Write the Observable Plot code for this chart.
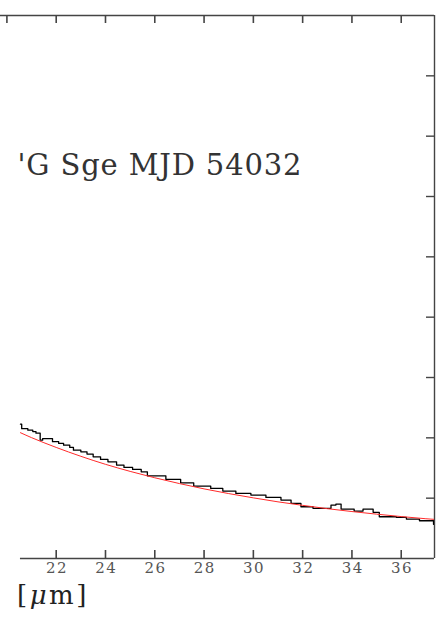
<!DOCTYPE html>
<html>
<head>
<meta charset="utf-8">
<script src="https://cdn.jsdelivr.net/npm/d3@7"></script>
<script src="https://cdn.jsdelivr.net/npm/@observablehq/plot@0.6"></script>
<style>
  body { margin: 0; background: #fff; }
  #chart { position: relative; width: 445px; height: 627px; overflow: hidden; }
  #unit { position: absolute; left: 17px; top: 582px; font: 26px "DejaVu Serif", serif; color: #222; line-height: 1; letter-spacing: 2.5px; }
</style>
</head>
<body>
<div id="chart"></div>
<script>
// Observed spectrum (binned, drawn as steps)
const wavelength = [20.55, 20.60, 20.85, 21.05, 21.18, 21.35, 21.45, 21.85, 22.10, 22.30,
  22.55, 22.70, 23.00, 23.25, 23.50, 23.80, 24.10, 24.45, 24.75, 25.10,
  25.45, 25.70, 26.45, 27.05, 27.58, 28.27, 28.76, 29.29, 29.90, 30.51,
  31.12, 31.53, 31.93, 32.42, 33.15, 33.35, 33.56, 34.09, 34.45, 34.86,
  35.11, 35.80, 36.21, 36.74, 37.31, 37.40];
const flux = [2.227, 2.152, 2.127, 2.103, 2.078, 1.962, 1.987, 1.937, 1.907, 1.879,
  1.841, 1.796, 1.768, 1.730, 1.685, 1.642, 1.603, 1.548, 1.510, 1.477,
  1.437, 1.371, 1.311, 1.255, 1.200, 1.162, 1.118, 1.079, 1.051, 1.013,
  0.969, 0.914, 0.858, 0.831, 0.886, 0.902, 0.820, 0.786, 0.820, 0.765,
  0.692, 0.682, 0.654, 0.626, 0.566, 0.566];

// Model continuum
const modelWavelength = [20.55, 21, 22, 23, 24, 25, 26, 27, 28, 29, 30, 31, 32, 33, 34, 35, 36, 37, 37.4];
const modelFlux = [2.085, 2.003, 1.841, 1.694, 1.561, 1.444, 1.338, 1.242, 1.154, 1.076,
  1.005, 0.939, 0.881, 0.826, 0.778, 0.735, 0.695, 0.659, 0.647];

const xTicks = [20, 22, 24, 26, 28, 30, 32, 34, 36];
const xLabels = [22, 24, 26, 28, 30, 32, 34, 36];
const yTicks = [1, 2, 3, 4, 5, 6, 7, 8];
const xDomain = [19.74, 37.35];
const yDomain = [0, 9];

const title = "'G Sge MJD 54032";
const titleAt = {x: 20.43, y: 6.36};

const spectrum = wavelength.map((w, i) => ({w, f: flux[i]}));
const model = modelWavelength.map((w, i) => ({w, f: modelFlux[i]}));

const W = 445, H = 627;
const margin = {top: 15, right: 11, bottom: 69, left: 0};
const innerH = H - margin.top - margin.bottom;
const tickLen = 8;
// tick length expressed in y units
const tickSpan = tickLen / innerH * (yDomain[1] - yDomain[0]);
const frameColor = "#444";

const chart = Plot.plot({
  width: W,
  height: H,
  marginTop: margin.top,
  marginRight: margin.right,
  marginBottom: margin.bottom,
  marginLeft: margin.left,
  x: {domain: xDomain},
  y: {domain: yDomain},
  style: {background: "white", fontFamily: "'DejaVu Serif', serif"},
  marks: [
    // partial frame: top, right and bottom edges
    Plot.ruleY([yDomain[1]], {stroke: frameColor, strokeWidth: 1.4}),
    Plot.ruleX([xDomain[1]], {stroke: frameColor, strokeWidth: 1.4}),
    Plot.ruleY([yDomain[0]], {x1: wavelength[0], x2: xDomain[1], stroke: frameColor, strokeWidth: 1.4}),
    // inward ticks along the top and bottom edges
    Plot.ruleX(xTicks, {x: d => d, y1: yDomain[1], y2: yDomain[1] - tickSpan, stroke: frameColor, strokeWidth: 1.6}),
    Plot.ruleX(xLabels, {x: d => d, y1: yDomain[0], y2: yDomain[0] + tickSpan, stroke: frameColor, strokeWidth: 1.6}),
    Plot.axisX({anchor: "bottom", ticks: xLabels, tickSize: 0, tickPadding: 4, fontSize: 15, fill: "#555", label: null}),
    // inward ticks along the right edge
    Plot.axisY({anchor: "right", ticks: yTicks, tickSize: -9, tickFormat: () => "", label: null, stroke: frameColor, strokeWidth: 1.4}),
    // spectrum and model
    Plot.line(spectrum, {x: "w", y: "f", curve: "step-after", stroke: "#000", strokeWidth: 1.3, clip: true}),
    Plot.line(model, {x: "w", y: "f", curve: "monotone-x", stroke: "#ff2a2a", strokeWidth: 1, clip: true}),
    // object label
    Plot.text([titleAt], {x: "x", y: "y", text: () => title, textAnchor: "start", lineAnchor: "bottom", fontSize: 29, fill: "#333"})
  ]
});

// widen the lettering of the object label and the tick labels
d3.select(chart).selectAll("text")
  .filter(function () { return this.textContent === title; })
  .attr("textLength", 284)
  .attr("lengthAdjust", "spacing");
d3.select(chart).selectAll("g[aria-label='x-axis tick label'] text")
  .style("letter-spacing", "1.5px")
  .attr("dx", 0.75);

const container = document.getElementById("chart");
container.appendChild(chart);
const unit = document.createElement("div");
unit.id = "unit";
unit.innerHTML = "[<i>μ</i>m]";
container.appendChild(unit);
</script>
</body>
</html>
